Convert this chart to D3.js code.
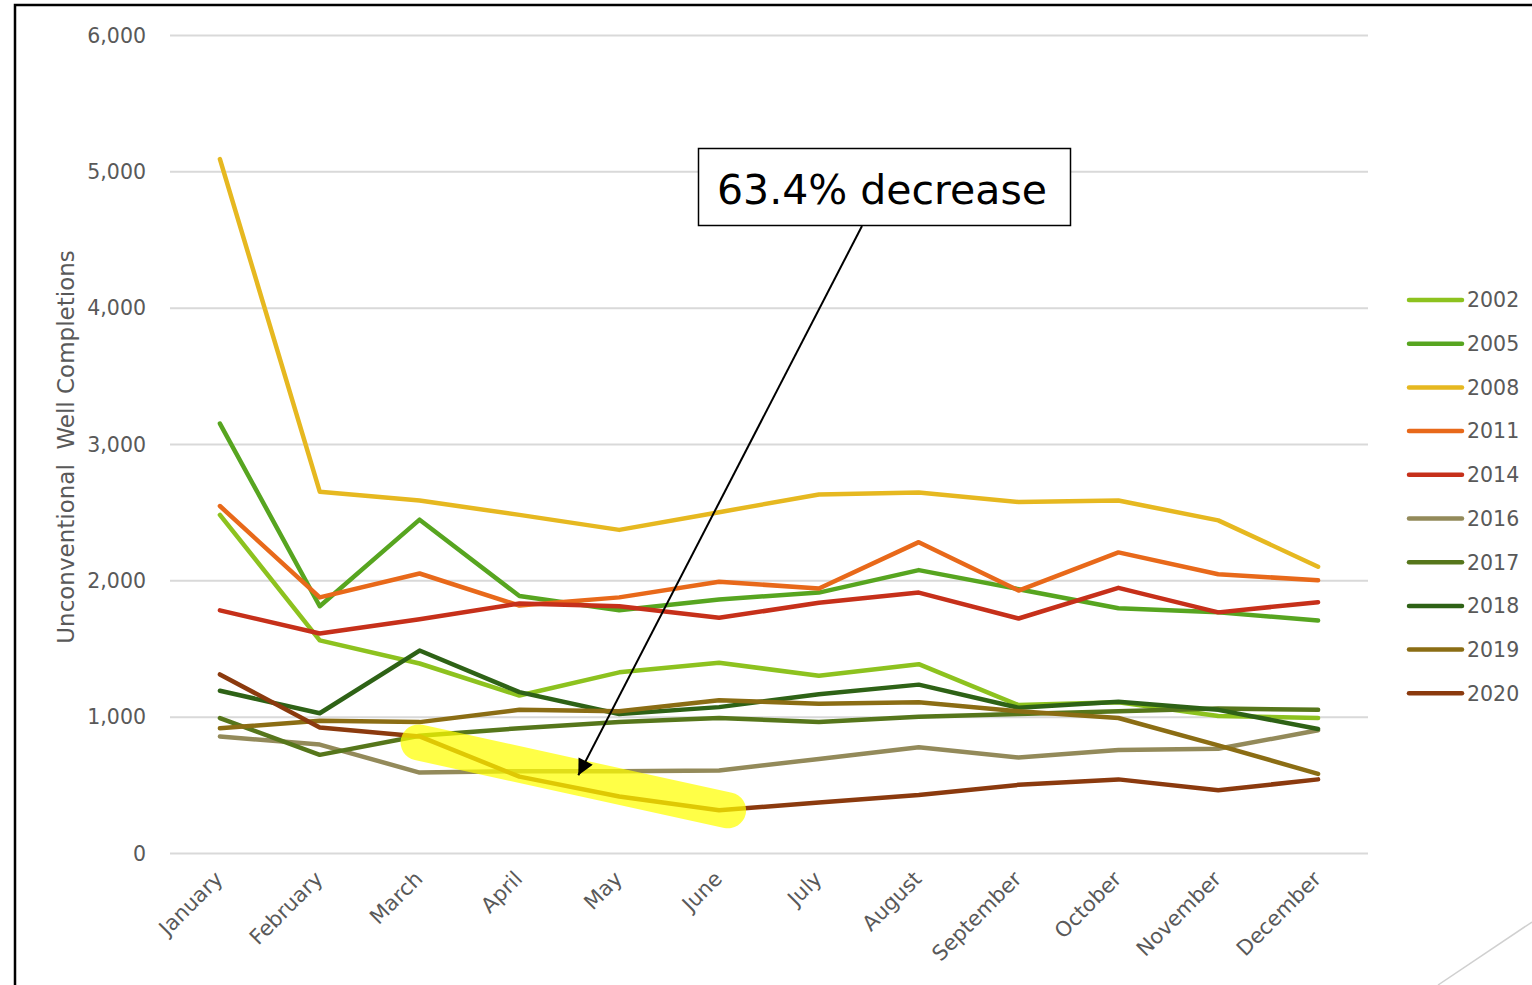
<!DOCTYPE html>
<html>
<head>
<meta charset="utf-8">
<script src="https://cdn.jsdelivr.net/npm/d3@7"></script>
<style>
  html, body { margin: 0; padding: 0; background: #fff; }
  svg { display: block; }
</style>
</head>
<body>
<svg id="chart" width="1532" height="985"></svg>
<script>
// Monthly unconventional well completions by year
const months = ["January", "February", "March", "April", "May", "June",
  "July", "August", "September", "October", "November", "December"];

const years = ["2002", "2005", "2008", "2011", "2014", "2016", "2017", "2018", "2019", "2020"];

const y2002 = [2480, 1560, 1390, 1155, 1325, 1395, 1300, 1385, 1085, 1105, 1005, 990];
const y2005 = [3150, 1810, 2445, 1885, 1780, 1860, 1910, 2075, 1935, 1795, 1765, 1705];
const y2008 = [5090, 2650, 2585, 2480, 2370, 2500, 2630, 2645, 2575, 2585, 2440, 2100];
const y2011 = [2545, 1875, 2050, 1815, 1875, 1990, 1940, 2280, 1925, 2205, 2045, 2000];
const y2014 = [1780, 1610, 1715, 1830, 1810, 1725, 1835, 1910, 1720, 1945, 1765, 1840];
const y2016 = [855, 795, 590, 600, 600, 605, 690, 775, 700, 755, 765, 900];
const y2017 = [990, 720, 860, 915, 960, 990, 960, 1000, 1020, 1040, 1060, 1050];
const y2018 = [1190, 1025, 1485, 1180, 1020, 1070, 1165, 1235, 1065, 1110, 1050, 910];
const y2019 = [915, 970, 960, 1050, 1040, 1120, 1095, 1105, 1040, 990, 790, 580];
const y2020 = [1310, 920, 855, 560, 415, 313, 370, 425, 500, 540, 460, 540];

const yTicks = [0, 1000, 2000, 3000, 4000, 5000, 6000];

const colors = ["#8DC21F", "#57A520", "#E6B820", "#E8691A", "#C6301A",
  "#938A5A", "#56761B", "#2E6216", "#8B6D14", "#8B3A0E"];

const seriesValues = [y2002, y2005, y2008, y2011, y2014, y2016, y2017, y2018, y2019, y2020];
const series = years.map((yr, i) => ({ year: yr, color: colors[i], values: seriesValues[i] }));

// 2020 drop from March to June
const dropFrom = 2, dropTo = 5;
const dropPct = (1 - y2020[dropTo] / y2020[dropFrom]) * 100;

const svg = d3.select("#chart");
const textColor = "#595959";
const font = "'DejaVu Sans', Verdana, sans-serif";

// slide frame
svg.append("path")
  .attr("d", "M15,985 L15,5 L1532,5")
  .attr("fill", "none").attr("stroke", "#000").attr("stroke-width", 2.5);
svg.append("line")
  .attr("x1", 1438).attr("y1", 985).attr("x2", 1532).attr("y2", 922)
  .attr("stroke", "#d0d0d0").attr("stroke-width", 1.5);

const x = d3.scaleBand().domain(months).range([170, 1368]);
const y = d3.scaleLinear().domain([0, 6000]).range([853, 35]);
const cx = m => x(m) + x.bandwidth() / 2;

// gridlines and value labels
const yAxis = d3.axisLeft(y).tickValues(yTicks).tickSize(-(1368 - 170))
  .tickFormat(d3.format(","));
const gy = svg.append("g").attr("transform", "translate(170,0)").call(yAxis);
gy.select(".domain").remove();
gy.selectAll(".tick line").attr("stroke", "#d9d9d9").attr("stroke-width", 2);
gy.selectAll(".tick text")
  .attr("x", -24).attr("dy", "0.35em")
  .attr("fill", textColor).attr("font-family", font).attr("font-size", 20.5);

// month labels
const xAxis = d3.axisBottom(x).tickSize(0);
const gx = svg.append("g").attr("transform", "translate(0,853)").call(xAxis);
gx.select(".domain").remove();
gx.selectAll(".tick text")
  .attr("fill", textColor).attr("font-family", font).attr("font-size", 21)
  .attr("text-anchor", "end")
  .attr("transform", "translate(-1,22) rotate(-45)")
  .attr("x", 0).attr("y", 0).attr("dy", "0.35em");

// axis title
svg.append("text")
  .attr("transform", "translate(74,447) rotate(-90)")
  .attr("text-anchor", "middle")
  .attr("fill", textColor).attr("font-family", font).attr("font-size", 23)
  .attr("xml:space", "preserve")
  .text("Unconventional  Well Completions");

// series lines
const line = d3.line().x((d, i) => cx(months[i])).y(d => y(d));
svg.append("g").selectAll("path").data(series).join("path")
  .attr("d", d => line(d.values))
  .attr("fill", "none")
  .attr("stroke", d => d.color)
  .attr("stroke-width", 4.5)
  .attr("stroke-linejoin", "round")
  .attr("stroke-linecap", "round");

// highlighter stroke over the 2020 drop
svg.append("line")
  .attr("x1", cx(months[dropFrom]) - 1).attr("y1", y(y2020[dropFrom]) + 6)
  .attr("x2", cx(months[dropTo]) + 9).attr("y2", y(y2020[dropTo]))
  .attr("stroke", "#FFFF00").attr("stroke-opacity", 0.72)
  .attr("stroke-width", 36).attr("stroke-linecap", "round");

// legend
const legend = svg.append("g");
series.forEach((s, i) => {
  const ly = 300 + i * 43.7;
  legend.append("line")
    .attr("x1", 1409).attr("x2", 1462).attr("y1", ly).attr("y2", ly)
    .attr("stroke", s.color).attr("stroke-width", 4.5).attr("stroke-linecap", "round");
  legend.append("text")
    .attr("x", 1467).attr("y", ly).attr("dy", "0.36em")
    .attr("fill", textColor).attr("font-family", font).attr("font-size", 20.5)
    .text(s.year);
});

// callout box with arrow
const defs = svg.append("defs");
defs.append("marker")
  .attr("id", "arrowhead").attr("viewBox", "0 0 10 10")
  .attr("refX", 10).attr("refY", 5)
  .attr("markerWidth", 9).attr("markerHeight", 8)
  .attr("markerUnits", "strokeWidth")
  .attr("orient", "auto")
  .append("path").attr("d", "M0,0 L10,5 L0,10 Z").attr("fill", "#000");

const target = { x: cx(months[3]) + 0.59 * x.step(), y: y(570) };
svg.append("line")
  .attr("x1", 862).attr("y1", 226)
  .attr("x2", target.x).attr("y2", target.y)
  .attr("stroke", "#000").attr("stroke-width", 2)
  .attr("marker-end", "url(#arrowhead)");

svg.append("rect")
  .attr("x", 698.5).attr("y", 148.5).attr("width", 372).attr("height", 77)
  .attr("fill", "#fff").attr("stroke", "#000").attr("stroke-width", 1.5);
svg.append("text")
  .attr("x", 882).attr("y", 204)
  .attr("text-anchor", "middle")
  .attr("fill", "#000").attr("font-family", font).attr("font-size", 41)
  .text(dropPct.toFixed(1) + "% decrease");
</script>
</body>
</html>
